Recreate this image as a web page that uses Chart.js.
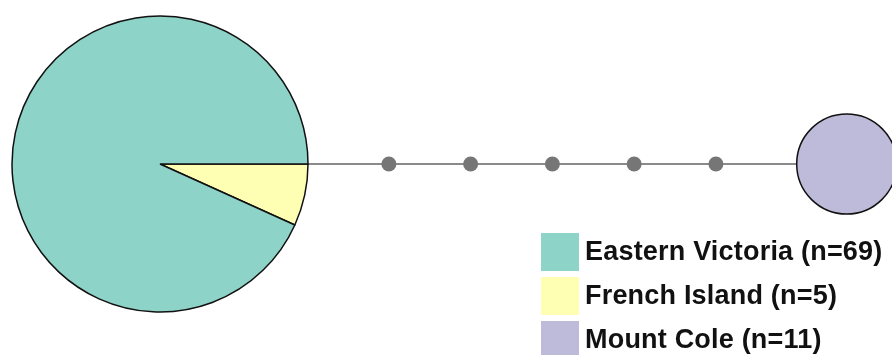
<!DOCTYPE html>
<html>
<head>
<meta charset="utf-8">
<script src="https://cdn.jsdelivr.net/npm/chart.js@4.4.1/dist/chart.umd.min.js"></script>
<style>
  html, body { margin: 0; padding: 0; background: #fff; }
  #wrap { position: relative; width: 892px; height: 355px; overflow: hidden; }
  #net { position: absolute; left: 0; top: 0; }
  #pieBox { position: absolute; left: 10px; top: 14px; width: 300px; height: 300px; }
  #legend { position: absolute; left: 541px; top: 230px; font-family: "Liberation Sans", Arial, sans-serif;
            font-weight: bold; font-size: 27px; letter-spacing: 0.2px; color: #111; white-space: nowrap; }
  .item { display: flex; align-items: center; height: 44px; }
  .sw { width: 38px; height: 38px; margin-right: 6px; flex: none; }
  .item span { position: relative; top: -1px; }
</style>
</head>
<body>
<div id="wrap">
  <canvas id="net" width="892" height="355"></canvas>
  <div id="pieBox"><canvas id="pie" width="300" height="300"></canvas></div>
  <div id="legend"></div>
</div>
<script>
// sampling groups
var groups = ['Eastern Victoria', 'French Island', 'Mount Cole'];
var groupN = [69, 5, 11];
var groupColors = ['#8dd3c7', '#ffffb3', '#bebada'];

// haplotype 1 is shared by Eastern Victoria and French Island
var hap1Groups = ['French Island', 'Eastern Victoria'];
var hap1Counts = [5, 69];

// node positions along the network, in mutation-step units
var hapX = [0, 8.4];            // haplotype 1, haplotype 2 (Mount Cole)
var missingX = [2.8, 3.8, 4.8, 5.8, 6.8]; // unsampled intermediate haplotypes

var colorOf = function (g) { return groupColors[groups.indexOf(g)]; };

// network: connecting line, missing haplotypes, Mount Cole node
new Chart(document.getElementById('net'), {
  type: 'scatter',
  data: {
    datasets: [
      {
        type: 'line',
        data: [{x: hapX[0], y: 0}, {x: hapX[1], y: 0}],
        borderColor: '#8a8a8a',
        borderWidth: 2,
        pointRadius: 0,
        order: 3
      },
      {
        data: missingX.map(function (x) { return {x: x, y: 0}; }),
        pointRadius: 7.5,
        backgroundColor: '#767676',
        borderWidth: 0,
        order: 2
      },
      {
        data: [{x: hapX[1], y: 0}],
        pointRadius: 50,
        backgroundColor: colorOf('Mount Cole'),
        borderColor: '#111',
        borderWidth: 1.5,
        order: 1
      }
    ]
  },
  options: {
    responsive: false,
    animation: false,
    events: [],
    layout: { padding: 0, autoPadding: false },
    clip: false,
    plugins: { legend: { display: false }, tooltip: { enabled: false } },
    scales: {
      x: { type: 'linear', min: -1.957, max: 8.954, display: false },
      y: { type: 'linear', min: -2.336, max: 2.006, display: false }
    }
  }
});

// haplotype 1 pie
new Chart(document.getElementById('pie'), {
  type: 'pie',
  data: {
    labels: hap1Groups,
    datasets: [{
      data: hap1Counts,
      backgroundColor: hap1Groups.map(colorOf),
      borderColor: '#111',
      borderWidth: 1.5
    }]
  },
  options: {
    responsive: false,
    animation: false,
    events: [],
    rotation: 90,
    radius: 148,
    layout: { padding: 0 },
    plugins: { legend: { display: false }, tooltip: { enabled: false } }
  }
});

// legend
var legend = document.getElementById('legend');
groups.forEach(function (g, i) {
  var row = document.createElement('div');
  row.className = 'item';
  row.innerHTML = '<div class="sw" style="background:' + groupColors[i] + '"></div><span>' +
    g + ' (n=' + groupN[i] + ')</span>';
  legend.appendChild(row);
});
</script>
</body>
</html>
